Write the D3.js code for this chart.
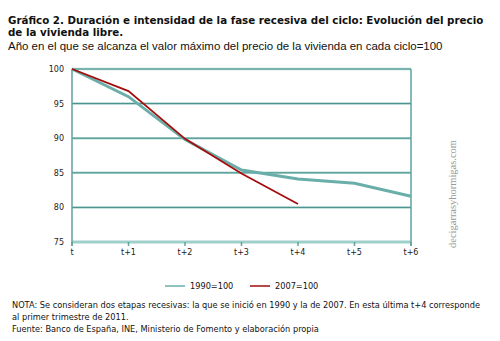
<!DOCTYPE html>
<html>
<head>
<meta charset="utf-8">
<script src="https://cdn.jsdelivr.net/npm/d3@7"></script>
<style>
  body { margin: 0; background: #fff; }
  svg { display: block; }
</style>
</head>
<body>
<div id="chart"></div>
<script>
// periods after the peak of each cycle
const periods = ['t', 't+1', 't+2', 't+3', 't+4', 't+5', 't+6'];
const serie1990 = [100, 96.0, 89.8, 85.4, 84.1, 83.5, 81.6];
const serie2007 = [100, 96.8, 89.9, 84.9, 80.5];
const yTicks = [75, 80, 85, 90, 95, 100];

const width = 500, height = 341;
const margin = { left: 72, right: 89, top: 69, bottom: 99 };

const svg = d3.select('#chart').append('svg')
    .attr('width', width)
    .attr('height', height);

const x = d3.scalePoint()
    .domain(periods)
    .range([margin.left, width - margin.right]);

const y = d3.scaleLinear()
    .domain([75, 100])
    .range([height - margin.bottom, margin.top]);

// shrink/grow a text's font so it spans the wanted width
function fitWidth(sel, target) {
    const node = sel.node();
    const size = parseFloat(sel.style('font-size'));
    const w = node.getComputedTextLength();
    sel.style('font-size', (size * target / w).toFixed(2) + 'px');
}

// titles
const title1 = svg.append('text')
    .attr('x', 8)
    .attr('y', 24)
    .style('font-family', 'DejaVu Sans, Verdana, sans-serif')
    .style('font-weight', 'bold')
    .style('font-size', '11px')
    .attr('fill', '#111')
    .text('Gráfico 2. Duración e intensidad de la fase recesiva del ciclo: Evolución del precio');
fitWidth(title1, 476);
const titleSize = title1.style('font-size');

svg.append('text')
    .attr('x', 8)
    .attr('y', 36)
    .style('font-family', 'DejaVu Sans, Verdana, sans-serif')
    .style('font-weight', 'bold')
    .style('font-size', titleSize)
    .attr('fill', '#111')
    .text('de la vivienda libre.');

const subtitle = svg.append('text')
    .attr('x', 8)
    .attr('y', 50)
    .style('font-family', 'Liberation Sans, Arial, sans-serif')
    .style('font-size', '13px')
    .attr('fill', '#111')
    .text('Año en el que se alcanza el valor máximo del precio de la vivienda en cada ciclo=100');
fitWidth(subtitle, 435);

// horizontal gridlines
yTicks.forEach(v => {
    svg.append('line')
        .attr('x1', margin.left).attr('x2', width - margin.right)
        .attr('y1', y(v)).attr('y2', y(v))
        .attr('stroke', v === 75 ? '#9fcfcb' : '#b3d9d5')
        .attr('stroke-width', v === 75 ? 3 : 2.5);
    if (v !== 75) {
        svg.append('line')
            .attr('x1', margin.left).attr('x2', width - margin.right)
            .attr('y1', y(v)).attr('y2', y(v))
            .attr('stroke', '#418c87')
            .attr('stroke-width', 1);
    }
});

// left and right frame lines
[margin.left, width - margin.right].forEach(px => {
    svg.append('line')
        .attr('x1', px).attr('x2', px)
        .attr('y1', y(100)).attr('y2', y(75) + 4)
        .attr('stroke', '#5fa39e')
        .attr('stroke-width', 1.5);
});

// x ticks
periods.forEach(p => {
    svg.append('line')
        .attr('x1', x(p)).attr('x2', x(p))
        .attr('y1', y(75)).attr('y2', y(75) + 4)
        .attr('stroke', '#5fa39e')
        .attr('stroke-width', 1.5);
});

// axis labels
svg.append('g').selectAll('text')
    .data(yTicks)
    .join('text')
    .attr('x', margin.left - 8)
    .attr('y', d => y(d) + 3)
    .attr('text-anchor', 'end')
    .style('font-family', 'DejaVu Sans, Verdana, sans-serif')
    .style('font-size', '8px')
    .attr('fill', '#222')
    .text(d => d);

svg.append('g').selectAll('text')
    .data(periods)
    .join('text')
    .attr('x', d => x(d))
    .attr('y', y(75) + 13)
    .attr('text-anchor', 'middle')
    .style('font-family', 'DejaVu Sans, Verdana, sans-serif')
    .style('font-size', '8px')
    .attr('fill', '#222')
    .text(d => d);

const line = d3.line()
    .x((d, i) => x(periods[i]))
    .y(d => y(d));

svg.append('path')
    .datum(serie1990)
    .attr('d', line)
    .attr('fill', 'none')
    .attr('stroke', '#6aaea9')
    .attr('stroke-width', 3);

svg.append('path')
    .datum(serie2007)
    .attr('d', line)
    .attr('fill', 'none')
    .attr('stroke', '#a50d0d')
    .attr('stroke-width', 1.8);

// legend
const legend = [
    { label: '1990=100', color: '#6aaea9', x: 165 },
    { label: '2007=100', color: '#a50d0d', x: 250 }
];
legend.forEach(l => {
    svg.append('line')
        .attr('x1', l.x).attr('x2', l.x + 20)
        .attr('y1', 286).attr('y2', 286)
        .attr('stroke', l.color)
        .attr('stroke-width', 1.5);
    svg.append('text')
        .attr('x', l.x + 25)
        .attr('y', 289)
        .style('font-family', 'DejaVu Sans, Verdana, sans-serif')
        .style('font-size', '8.2px')
        .attr('fill', '#111')
        .text(l.label);
});

// notes
const notes = [
    'NOTA: Se consideran dos etapas recesivas: la que se inició en 1990 y la de 2007. En esta última t+4 corresponde',
    'al primer trimestre de 2011.',
    'Fuente: Banco de España, INE, Ministerio de Fomento y elaboración propia'
];
const noteText = svg.append('g').selectAll('text')
    .data(notes)
    .join('text')
    .attr('x', 12)
    .attr('y', (d, i) => 308 + i * 12)
    .style('font-family', 'DejaVu Sans, Verdana, sans-serif')
    .style('font-size', '8.5px')
    .attr('fill', '#111')
    .text(d => d);
const first = d3.select(noteText.nodes()[0]);
fitWidth(first, 468);
noteText.style('font-size', first.style('font-size'));

// watermark
const mark = svg.append('text')
    .attr('transform', 'translate(456,194) rotate(-90)')
    .attr('text-anchor', 'middle')
    .style('font-family', 'Liberation Serif, Times New Roman, serif')
    .style('font-size', '11px')
    .attr('fill', '#999')
    .text('decigarrasyhormigas.com');
fitWidth(mark, 108);
</script>
</body>
</html>
